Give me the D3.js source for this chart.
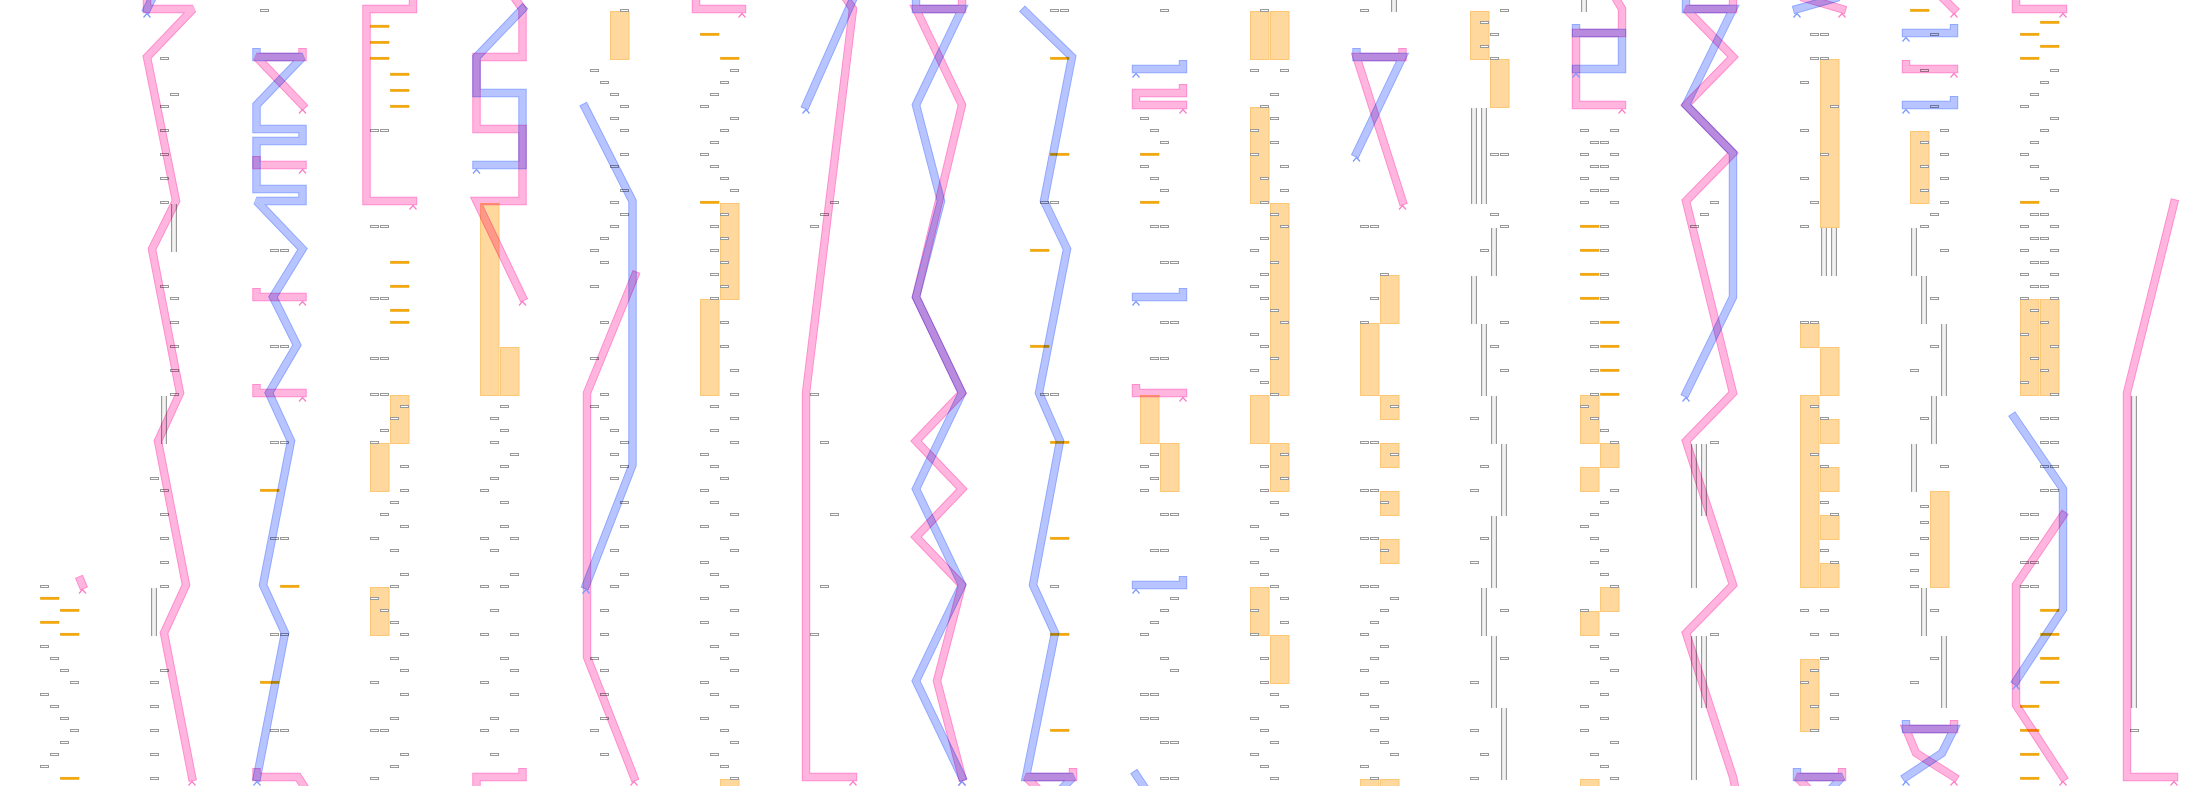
<!DOCTYPE html>
<html><head><meta charset="utf-8">
<script src="https://cdnjs.cloudflare.com/ajax/libs/d3/7.8.5/d3.min.js"></script>
<style>html,body{margin:0;padding:0;background:#fff;}svg{display:block;}</style>
</head><body>
<script>
// ---- data (grid units: column, row) ----
const boxes = [
[4,48],[4,53],[5,54],[6,55],[7,56],[4,57],[5,58],[6,59],[7,60],[6,61],[5,62],[4,63],
[16,4],[17,7],[16,8],[16,10],[16,12],[16,14],[16,16],[16,23],[17,24],[17,26],[17,28],[17,30],[17,32],[15,39],[16,40],[16,42],[16,44],[16,46],[16,48],[16,55],[15,56],[15,58],[15,60],[15,62],[15,64],
[26,0],[27,20],[28,20],[27,28],[28,28],[27,36],[28,36],[27,44],[28,44],[27,52],[28,52],[27,60],[28,60],
[37,10],[38,10],[37,18],[38,18],[37,24],[38,24],[37,29],[38,29],[37,32],[38,32],[40,33],[39,34],[38,35],[37,36],[40,38],[40,40],[39,41],[38,42],[40,43],[37,44],[39,45],[40,47],[39,48],[37,49],[38,50],[39,51],[40,52],[39,54],[40,55],[37,56],[40,57],[39,59],[37,60],[38,60],[40,62],[39,63],[37,64],
[50,33],[49,34],[50,35],[49,36],[51,37],[50,38],[49,39],[48,40],[50,41],[50,43],[48,44],[51,44],[49,45],[51,47],[48,48],[50,48],[49,50],[48,52],[51,52],[50,54],[51,55],[48,56],[51,57],[49,59],[48,60],[51,60],[49,62],
[62,0],[59,5],[60,6],[61,7],[62,8],[61,9],[62,10],[62,12],[61,13],[62,15],[61,16],[62,17],[61,18],[60,19],[59,20],[60,21],[59,23],[60,26],[59,29],[60,32],[59,33],[60,34],[61,35],[62,36],[61,37],[62,38],[61,39],[62,41],[62,43],[61,45],[62,47],[61,48],[60,50],[60,52],[59,54],[60,55],[60,57],[60,59],[59,60],[60,62],
[73,5],[72,6],[71,7],[70,8],[73,9],[72,10],[71,11],[70,12],[71,13],[72,14],[73,15],[72,17],[71,18],[72,19],[71,20],[72,21],[71,22],[72,23],[71,24],[72,26],[72,28],[73,30],[73,32],[71,33],[73,34],[71,35],[73,36],[70,37],[71,38],[72,39],[70,40],[71,41],[73,42],[70,43],[72,44],[73,45],[70,46],[71,47],[72,48],[70,49],[73,50],[70,51],[73,52],[71,53],[72,54],[73,55],[70,56],[71,57],[73,58],[70,59],[72,60],[73,61],[71,62],[72,63],[73,64],
[83,16],[82,17],[81,18],[81,32],[82,36],[83,42],[82,48],[81,52],
[105,0],[106,0],[104,16],[105,16],[104,32],[105,32],[105,48],
[116,0],[114,9],[115,10],[116,11],[114,13],[115,14],[116,15],[115,18],[116,18],[116,21],[117,21],[116,26],[117,26],[115,29],[116,29],[115,37],[114,38],[115,39],[114,40],[116,42],[117,42],[115,45],[116,45],[117,49],[116,50],[115,51],[114,52],[116,54],[117,55],[114,57],[115,57],[114,59],[115,59],[116,61],[117,61],[116,64],[117,64],
[126,0],[125,5],[126,8],[125,10],[125,12],[126,14],[126,16],[126,19],[125,20],[126,22],[125,23],[126,24],[125,27],[126,28],[125,30],[126,31],[126,38],[126,40],[125,43],[126,44],[125,46],[126,47],[125,50],[125,52],[126,54],[126,56],[125,59],[126,60],[125,62],[126,63],
[128,5],[127,7],[127,9],[127,11],[128,13],[128,15],[127,17],[128,18],[127,21],[127,25],[128,26],[127,29],[127,32],[128,37],[128,39],[127,41],[128,42],[127,45],[127,48],[128,49],[128,51],[127,57],[128,58],[127,61],[127,64],
[136,0],[136,18],[137,18],[138,22],[137,24],[136,26],[139,33],[136,36],[137,36],[139,37],[136,40],[137,40],[138,41],[136,44],[137,44],[138,45],[136,48],[137,48],[139,49],[138,50],[137,51],[136,52],[138,53],[137,54],[136,55],[138,56],[136,57],[137,58],[138,59],[137,60],[138,61],[139,62],[136,63],[137,64],
[150,0],[148,1],[149,2],[148,3],[149,4],[149,12],[150,12],[149,17],[150,18],[148,20],[150,26],[149,28],[150,30],[147,34],[148,38],[147,40],[148,44],[147,46],[150,50],[150,54],[147,56],[147,60],[148,62],[147,64],
[158,10],[161,10],[159,11],[160,11],[158,12],[161,12],[159,13],[160,13],[158,14],[161,14],[159,15],[160,15],[158,16],[161,16],[160,18],[160,20],[160,22],[160,24],[159,26],[159,28],[159,30],[159,32],[158,33],[159,34],[160,35],[161,36],[161,40],[160,41],[159,42],[158,43],[159,44],[160,45],[159,46],[160,47],[161,48],[158,50],[161,52],[159,53],[160,54],[161,55],[159,56],[160,57],[158,58],[160,59],[158,60],[161,61],[159,62],[160,63],[161,64],
[171,16],[170,17],[169,18],[171,36],[171,52],
[181,2],[182,2],[181,4],[182,4],[180,6],[183,8],[180,10],[182,12],[180,14],[181,16],[180,18],[180,26],[181,26],[181,33],[182,34],[181,37],[182,38],[182,41],[183,42],[182,45],[183,46],[180,50],[182,50],[181,52],[183,52],[182,54],[181,55],[180,56],[183,57],[181,58],[183,59],[181,60],
[193,2],[192,5],[193,8],[194,10],[192,11],[194,12],[192,13],[194,14],[192,15],[194,16],[193,17],[192,18],[194,20],[193,24],[193,28],[191,30],[192,34],[194,38],[192,41.33],[192,42.67],[192,44],[191,45.33],[191,46.67],[191,48],[193,50],[193,54],[191,56],
[205,5],[204,6],[203,7],[202,8],[205,9],[204,10],[203,11],[202,12],[203,13],[204,14],[205,15],[203,17],[204,17],[202,18],[205,18],[203,19],[204,19],[202,20],[205,20],[203,21],[204,21],[202,22],[205,22],[203,23],[204,23],[202,24],[205,24],[203,25],[204,26],[202,27],[205,28],[203,29],[204,30],[202,31],[205,32],[204,34],[205,34],[204,36],[205,36],[204,38],[205,38],[204,40],[205,40],[202,42],[203,42],[202,44],[203,44],[202,46],[203,46],[202,48],[203,48],
[213,60]
];

const ticks = [
[4,49],[6,50],[4,51],[6,52],[6,64],[26,40],[28,48],[26,56],
[37,1.33],[37,2.67],[37,4],[39,5.33],[39,6.67],[39,8],[39,21],[39,23],[39,25],[39,26],
[70,2],[72,4],[70,16],
[105,4],[105,12],[103,20],[103,28],[105,36],[105,44],[105,52],[105,60],[114,12],[114,16],
[158,18],[158,20],[158,22],[158,24],[160,26],[160,28],[160,30],[160,32],
[191,0],[204,1],[202,2],[204,3],[202,4],[202,16],[204,50],[204,52],[204,54],[204,56],[202,58],[202,60],[202,62],[202,64]
];

const blocks = [
[39,32,36],[37,36,40],[37,48,52],[48,16,32],[50,28,32],[61,0,4],
[72,16,24],[70,24,32],[72,64,65.5],
[114,32,36],[116,36,40],[125,0,4],[125,8,16],[125,32,36],[125,48,52],
[127,0,4],[127,16,32],[127,36,40],[127,52,56],
[138,22,26],[136,26,32],[138,32,34],[138,36,38],[138,40,42],[138,44,46],[136,64,65.5],[138,64,65.5],
[147,0,4],[149,4,8],
[158,32,36],[160,36,38],[158,38,40],[160,48,50],[158,50,52],[158,64,65.5],
[182,4,18],[180,26,28],[182,28,32],[180,32,48],[182,34,36],[182,38,40],[182,42,44],[182,46,48],[180,54,60],
[191,10,16],[193,40,48],[202,24,32],[204,24,32]
];

const rails = [
[17,16,20],[16,32,36],[15,48,52],
[139,-1,0],[147,8,16],[148,8,16],[149,18,22],[147,22,26],[148,26,32],[149,32,36],[150,36,42],[149,42,48],[148,48,52],[149,52,58],[150,58,64],
[158,-1,0],[169,36,48],[170,36,42],[169,52,64],[170,52,58],[182,18,22],[183,18,22],
[191,18,22],[192,22,26],[194,26,32],[193,32,36],[191,36,40],[192,48,52],[194,52,58],[213,32,58]
];

const pinkRoutes = [
 {pts:[[14.7,-1],[14.7,0],[19.3,0],[14.7,4],[17.6,16],[15.2,20],[18.0,32],[15.8,36],[18.6,48],[16.4,52],[19.2,64]], arrow:1},
 {pts:[[8.05,47.6],[8.25,48]], arrow:1},
 {pts:[[30.25,3.6],[30.25,4],[25.65,4],[30.25,8]], arrow:1},
 {pts:[[25.65,12.6],[25.65,13],[30.25,13]], arrow:1},
 {pts:[[25.65,23.6],[25.65,24],[30.25,24]], arrow:1},
 {pts:[[25.65,31.6],[25.65,32],[30.25,32]], arrow:1},
 {pts:[[25.65,63.6],[25.65,64],[29.8,64],[31.2,65.8]], arrow:0},
 {pts:[[41.3,-1],[41.3,0],[36.65,0],[36.65,16],[41.3,16]], arrow:1},
 {pts:[[51.4,-1],[52.25,0],[52.25,4],[47.65,4],[47.65,10],[52.25,10],[52.25,16],[47.65,16],[52.25,24]], arrow:1},
 {pts:[[52.25,63.6],[52.25,64],[47.65,64],[47.65,66]], arrow:0},
 {pts:[[63.5,22.2],[58.7,32],[58.7,54],[63.4,64]], arrow:1},
 {pts:[[69.6,-1],[69.6,0],[74.2,0]], arrow:1},
 {pts:[[84.5,-1],[85.3,0],[80.6,32],[80.6,64],[85.3,64]], arrow:1},
 {pts:[[96.2,-1],[96.2,0],[91.6,0],[96.2,8],[91.6,24],[96.2,32],[91.6,36],[96.2,40],[91.6,44],[96.2,48],[93.7,56],[96.2,64]], arrow:1},
 {pts:[[107.3,63.6],[107.3,64],[102.6,64],[105,66]], arrow:0},
 {pts:[[118.3,6.6],[118.3,7],[113.6,7],[113.6,8],[118.3,8]], arrow:1},
 {pts:[[113.6,31.6],[113.6,32],[118.3,32]], arrow:1},
 {pts:[[140.25,3.6],[140.25,4],[135.65,4],[140.25,16]], arrow:1},
 {pts:[[161.5,-1],[162.2,0],[162.2,2],[157.6,2],[157.6,8],[162.2,8]], arrow:1},
 {pts:[[173.3,-1],[173.3,0],[168.6,0],[173.3,4],[168.6,8],[173.3,12],[168.6,16],[173.3,32],[168.6,36],[173.3,48],[168.6,52],[173.3,64],[173.8,66]], arrow:0},
 {pts:[[180.5,-0.9],[184.2,0]], arrow:1},
 {pts:[[184.2,63.6],[184.2,64],[179.7,64],[182,66]], arrow:0},
 {pts:[[194.3,-0.9],[195.4,0]], arrow:1},
 {pts:[[190.6,4.6],[190.6,5],[195.4,5]], arrow:1},
 {pts:[[195.4,59.6],[195.4,60],[190.6,60],[191.6,62],[195.4,64]], arrow:1},
 {pts:[[201.6,-1],[201.6,0],[206.3,0]], arrow:1},
 {pts:[[206.3,42.2],[201.6,48],[201.6,58],[206.3,64]], arrow:1},
 {pts:[[217.4,16.2],[212.7,32],[212.7,64],[217.4,64]], arrow:1}
];

const blueRoutes = [
 {pts:[[15.4,-1.2],[14.7,0]], arrow:1},
 {pts:[[25.65,3.6],[25.65,4],[30.25,4],[25.65,8],[25.65,10],[30.25,10],[30.25,11],[25.65,11],[25.65,15],[30.25,15],[30.25,16],[25.65,16],[30.25,20],[27.3,24],[29.7,28],[26.9,32],[29.1,36],[26.3,48],[28.5,52],[25.7,64]], arrow:1},
 {pts:[[52.25,0],[47.65,4],[47.65,7],[52.25,7],[52.25,13],[47.65,13]], arrow:1},
 {pts:[[58.5,8.2],[63.25,16],[63.25,38],[58.6,48]], arrow:1},
 {pts:[[85.4,-1],[80.6,8]], arrow:1},
 {pts:[[91.6,-1],[91.6,0],[96.2,0],[91.6,8],[94.1,16],[91.6,24],[96.2,32],[91.6,40],[96.2,48],[91.6,56],[96.2,64]], arrow:1},
 {pts:[[102.5,0.2],[107.2,4],[104.4,16],[106.7,20],[103.9,32],[106,36],[103.3,48],[105.5,52],[102.6,64],[107.3,64],[105,66]], arrow:0},
 {pts:[[118.3,4.6],[118.3,5],[113.6,5]], arrow:1},
 {pts:[[118.3,23.6],[118.3,24],[113.6,24]], arrow:1},
 {pts:[[118.3,47.6],[118.3,48],[113.6,48]], arrow:1},
 {pts:[[113.6,63.8],[115.2,65.8]], arrow:0},
 {pts:[[135.65,3.6],[135.65,4],[140.25,4],[135.65,12]], arrow:1},
 {pts:[[157.6,1.6],[157.6,2],[162.2,2],[162.2,5],[157.6,5]], arrow:1},
 {pts:[[168.6,-1],[168.6,0],[173.3,0],[168.6,8],[173.3,12],[173.3,24],[168.6,32]], arrow:1},
 {pts:[[183.5,-0.9],[179.7,0]], arrow:1},
 {pts:[[179.7,63.6],[179.7,64],[184.2,64],[182,66]], arrow:0},
 {pts:[[195.4,1.6],[195.4,2],[190.6,2]], arrow:1},
 {pts:[[195.4,7.6],[195.4,8],[190.6,8]], arrow:1},
 {pts:[[190.6,59.6],[190.6,60],[195.4,60],[194.2,62],[190.6,64]], arrow:1},
 {pts:[[201.4,34],[206.3,40],[206.3,50],[201.6,56]], arrow:1}
];

// ---- drawing ----
const W = 2210, H = 786;
const x = d3.scaleLinear().domain([0, 221]).range([0, W]);
const y = d3.scaleLinear().domain([0, 64]).range([10, 778]);
const colW = x(2) - x(0) - 1;

const svg = d3.select("body").append("svg").attr("width", W).attr("height", H)
  .style("background", "#fff");
const defs = svg.append("defs");
const g = defs.append("linearGradient").attr("id", "railGrad");
g.append("stop").attr("offset", "0%").attr("stop-color", "#d6d6d6");
g.append("stop").attr("offset", "50%").attr("stop-color", "#fafafa");
g.append("stop").attr("offset", "100%").attr("stop-color", "#d6d6d6");

svg.append("rect").attr("width", W).attr("height", H).attr("fill", "#fff");

svg.append("g").selectAll("rect").data(blocks).join("rect")
  .attr("x", d => x(d[0]) + 0.5).attr("y", d => y(d[1]) + 1.5)
  .attr("width", colW - 0.5).attr("height", d => y(d[2]) - y(d[1]))
  .attr("fill", "#fed89c").attr("stroke", "#fcc777").attr("stroke-width", 1);

const rg = svg.append("g");
rg.selectAll("rect").data(rails).join("rect")
  .attr("x", d => x(d[0]) + 1.5).attr("y", d => y(d[1]) + 2)
  .attr("width", 5).attr("height", d => y(d[2]) - y(d[1]))
  .attr("fill", "url(#railGrad)");
rg.selectAll("line.l").data(rails).join("line").attr("class", "l")
  .attr("x1", d => x(d[0]) + 1.5).attr("x2", d => x(d[0]) + 1.5)
  .attr("y1", d => y(d[1]) + 2).attr("y2", d => y(d[2]) + 2)
  .attr("stroke", "#9a9a9a").attr("stroke-width", 1);
rg.selectAll("line.r").data(rails).join("line").attr("class", "r")
  .attr("x1", d => x(d[0]) + 6.5).attr("x2", d => x(d[0]) + 6.5)
  .attr("y1", d => y(d[1]) + 2).attr("y2", d => y(d[2]) + 2)
  .attr("stroke", "#9a9a9a").attr("stroke-width", 1);

svg.append("g").selectAll("rect").data(ticks).join("rect")
  .attr("x", d => x(d[0]) + 0.5).attr("y", d => y(d[1]) - 0.8)
  .attr("width", colW - 0.5).attr("height", 2.2)
  .attr("fill", "#f6a800").attr("stroke", "#e59a00").attr("stroke-width", 0.5);

svg.append("g").selectAll("rect").data(boxes).join("rect")
  .attr("x", d => x(d[0]) + 0.5).attr("y", d => Math.round(y(d[1])) - 0.5)
  .attr("width", 8).attr("height", 2)
  .attr("fill", "#fff").attr("stroke", "#999").attr("stroke-width", 1);

const line = d3.line().x(d => x(d[0])).y(d => y(d[1]) - 1);
const styles = {
  pink: {edge: "#ff8ccf", fill: "#ffb5de", chev: "#ff7cc6"},
  blue: {edge: "#90a8ff", fill: "#b8c4ff", chev: "#7d99ff"}
};
function drawRoutes(routes, key) {
  const st = styles[key];
  const layer = svg.append("g");
  routes.forEach(r => {
    const gg = layer.append("g").style("mix-blend-mode", "multiply");
    gg.append("path").attr("d", line(r.pts)).attr("fill", "none")
      .attr("stroke", st.edge).attr("stroke-width", 8.4)
      .attr("stroke-linecap", "square").attr("stroke-linejoin", "miter").attr("stroke-miterlimit", 2);
    gg.append("path").attr("d", line(r.pts)).attr("fill", "none")
      .attr("stroke", st.fill).attr("stroke-width", 6.4)
      .attr("stroke-linecap", "square").attr("stroke-linejoin", "miter").attr("stroke-miterlimit", 2);
  });
  const ends = routes.filter(r => r.arrow).map(r => r.pts[r.pts.length - 1]);
  layer.selectAll("path.chev").data(ends).join("path").attr("class", "chev")
    .attr("d", d => {
      const cx = x(d[0]), cy = y(d[1]) - 1;
      return `M${cx - 3.5},${cy + 8.5}L${cx},${cy + 4.5}L${cx + 3.5},${cy + 8.5}`;
    })
    .attr("fill", "none").attr("stroke", st.chev).attr("stroke-width", 1.2);
}
drawRoutes(pinkRoutes, "pink");
drawRoutes(blueRoutes, "blue");
</script>
</body></html>
